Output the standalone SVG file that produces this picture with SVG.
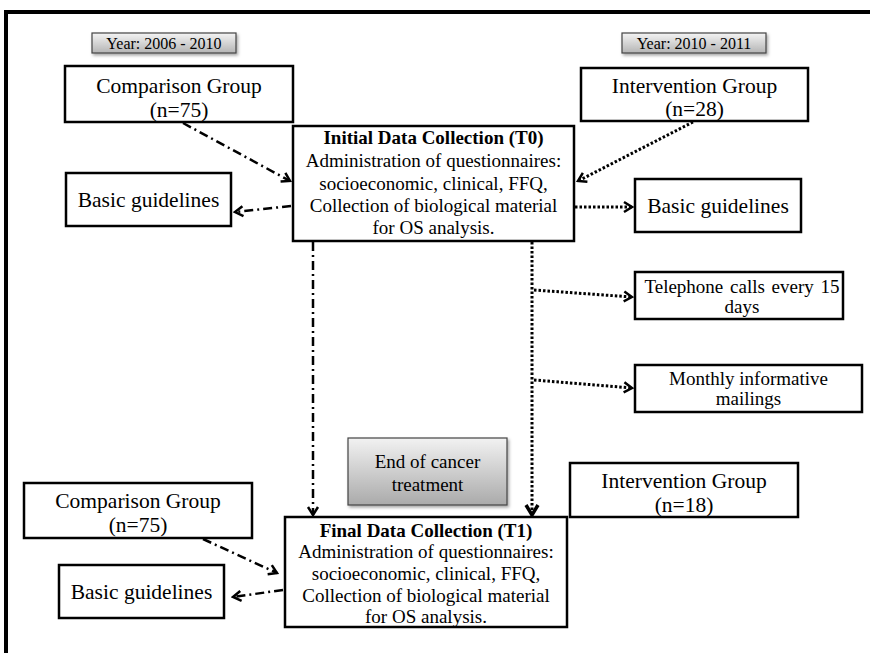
<svg xmlns="http://www.w3.org/2000/svg" width="870" height="653" viewBox="0 0 870 653">
<style>
.box{fill:#fff;stroke:#000;stroke-width:2.5}
.gbox{stroke:#444;stroke-width:1.2}
.t{font-family:"Liberation Serif","Times New Roman",serif;fill:#000;text-anchor:middle}
.big{font-size:21.5px}
.mid{font-size:19px}
.sm{font-size:16px}
.b{font-weight:bold}
.dd{fill:none;stroke:#000;stroke-width:2.5;stroke-dasharray:9 4 2 4}
.dt{fill:none;stroke:#000;stroke-width:3;stroke-dasharray:2.5 2}
</style>
<defs>
<linearGradient id="g1" x1="0" y1="0" x2="0" y2="1">
<stop offset="0" stop-color="#f4f4f4"/>
<stop offset="1" stop-color="#b4b4b4"/>
</linearGradient>
<linearGradient id="g2" x1="0" y1="0" x2="0" y2="1">
<stop offset="0" stop-color="#f2f2f2"/>
<stop offset="1" stop-color="#aaaaaa"/>
</linearGradient>
<filter id="sh" x="-10%" y="-10%" width="125%" height="140%">
<feDropShadow dx="1.5" dy="2" stdDeviation="1.5" flood-color="#000" flood-opacity="0.35"/>
</filter>
<marker id="ah" viewBox="-11 -7 13 14" markerWidth="13" markerHeight="14" refX="0" refY="0" orient="auto" markerUnits="userSpaceOnUse">
<path d="M-8,-5 L0,0 L-8,5" fill="none" stroke="#000" stroke-width="2.5"/>
</marker>
<marker id="ahb" viewBox="-13 -8 15 16" markerWidth="15" markerHeight="16" refX="0" refY="0" orient="auto" markerUnits="userSpaceOnUse">
<path d="M-10,-6 L0,0 L-10,6" fill="none" stroke="#000" stroke-width="3.5"/>
</marker>
</defs>
<rect width="870" height="653" fill="#fff"/>
<path d="M6,653 V12 H870" fill="none" stroke="#000" stroke-width="4"/>

<g id="connectors">
<path class="dd" d="M183,123 L290,181" marker-end="url(#ah)"/>
<path class="dd" d="M291,206 L235,212" marker-end="url(#ah)"/>
<path class="dt" d="M693,122 L578,181" marker-end="url(#ah)"/>
<path class="dt" d="M575,207 L632,207" marker-end="url(#ah)"/>
<path class="dd" d="M313,242 L313,515" marker-end="url(#ah)"/>
<path class="dt" d="M532,242 L532,515" marker-end="url(#ahb)"/>
<path class="dt" d="M534,290 L632,297" marker-end="url(#ah)"/>
<path class="dt" d="M534,380 L632,388" marker-end="url(#ah)"/>
<path class="dd" d="M203,539 L277,573" marker-end="url(#ah)"/>
<path class="dd" d="M283,590 L233,597" marker-end="url(#ah)"/>
</g>

<g id="year1">
<rect class="gbox" x="92" y="33" width="144" height="20" fill="url(#g1)" filter="url(#sh)"/>
<text class="t sm" x="164" y="48.5">Year: 2006 - 2010</text>
</g>
<g id="year2">
<rect class="gbox" x="622" y="33" width="144" height="20" fill="url(#g1)" filter="url(#sh)"/>
<text class="t sm" x="694" y="48.5">Year: 2010 - 2011</text>
</g>

<g id="comparison1">
<rect class="box" x="65" y="66" width="228" height="56"/>
<text class="t big" x="179" y="93">Comparison Group</text>
<text class="t big" x="179" y="117">(n=75)</text>
</g>
<g id="intervention1">
<rect class="box" x="581" y="68" width="227" height="53"/>
<text class="t big" x="694.5" y="93">Intervention Group</text>
<text class="t big" x="694.5" y="116">(n=28)</text>
</g>

<g id="initial">
<rect class="box" x="293" y="126" width="281" height="115"/>
<text class="t mid b" x="433.5" y="144">Initial Data Collection (T0)</text>
<text class="t mid" x="433.5" y="167">Administration of questionnaires:</text>
<text class="t mid" x="433.5" y="190">socioeconomic, clinical, FFQ,</text>
<text class="t mid" x="433.5" y="212">Collection of biological material</text>
<text class="t mid" x="433.5" y="234">for OS analysis.</text>
</g>

<g id="basic1">
<rect class="box" x="66" y="173" width="165" height="53"/>
<text class="t big" x="148.5" y="207">Basic guidelines</text>
</g>
<g id="basic2">
<rect class="box" x="635" y="179" width="166" height="53"/>
<text class="t big" x="718" y="213">Basic guidelines</text>
</g>

<g id="telephone">
<rect class="box" x="635" y="272" width="208" height="47"/>
<text class="t mid" x="742" y="293" word-spacing="2">Telephone calls every 15</text>
<text class="t mid" x="742" y="313">days</text>
</g>
<g id="monthly">
<rect class="box" x="635" y="365" width="227" height="47"/>
<text class="t mid" x="748.5" y="385">Monthly informative</text>
<text class="t mid" x="748.5" y="405">mailings</text>
</g>

<g id="endtreatment">
<rect class="gbox" x="348" y="438" width="159" height="67" fill="url(#g2)" filter="url(#sh)"/>
<text class="t mid" x="427.5" y="468">End of cancer</text>
<text class="t mid" x="427.5" y="491">treatment</text>
</g>

<g id="intervention2">
<rect class="box" x="570" y="463" width="228" height="54"/>
<text class="t big" x="684" y="488">Intervention Group</text>
<text class="t big" x="684" y="512">(n=18)</text>
</g>

<g id="comparison2">
<rect class="box" x="24" y="483" width="228" height="55"/>
<text class="t big" x="138" y="508">Comparison Group</text>
<text class="t big" x="138" y="532">(n=75)</text>
</g>

<g id="basic3">
<rect class="box" x="59" y="565" width="165" height="53"/>
<text class="t big" x="141.5" y="599">Basic guidelines</text>
</g>

<g id="final">
<rect class="box" x="285" y="517" width="282" height="110"/>
<text class="t mid b" x="426" y="537">Final Data Collection (T1)</text>
<text class="t mid" x="426" y="558">Administration of questionnaires:</text>
<text class="t mid" x="426" y="580">socioeconomic, clinical, FFQ,</text>
<text class="t mid" x="426" y="602">Collection of biological material</text>
<text class="t mid" x="426" y="623">for OS analysis.</text>
</g>
</svg>
